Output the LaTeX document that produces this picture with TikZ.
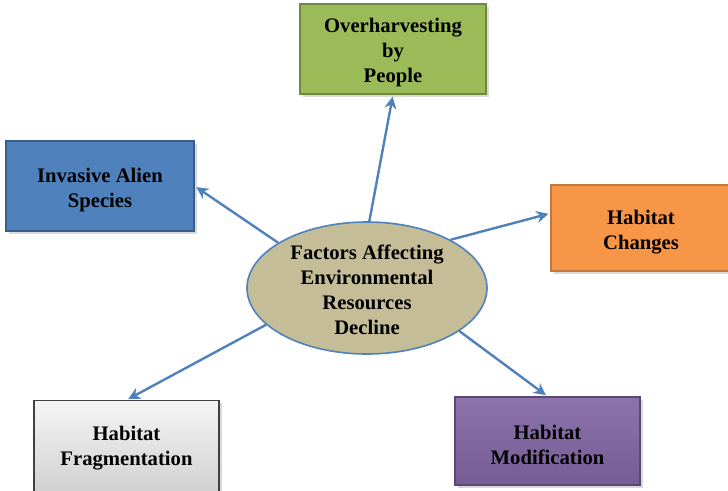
\documentclass[tikz,border=0pt]{standalone}
\usepackage{fontspec}
\setmainfont{Liberation Serif}
\usepackage{xcolor}
\usetikzlibrary{arrows.meta}
\usetikzlibrary{shapes.geometric}
\usetikzlibrary{shadows}

\definecolor{ovgreen}{HTML}{9BBB59}
\definecolor{ovgreenline}{HTML}{71893F}
\definecolor{invblue}{HTML}{4F81BD}
\definecolor{invblueline}{HTML}{385D8A}
\definecolor{hcorange}{HTML}{F79646}
\definecolor{hcorangeline}{HTML}{C0773C}
\definecolor{modpurple}{HTML}{8064A2}
\definecolor{modpurpleline}{HTML}{5C4776}
\definecolor{coretan}{HTML}{C4BD97}
\definecolor{arrowblue}{HTML}{4F81BD}

\begin{document}
\begin{tikzpicture}[x=0.75pt,y=-0.75pt,
  factor/.style={rectangle,line width=1pt,align=center,inner sep=0pt,text height=35.25pt,
    font=\bfseries\fontsize{15.5}{18.75}\selectfont,
    drop shadow={shadow xshift=2pt,shadow yshift=-2pt,opacity=0.3}},
  spoke/.style={draw=arrowblue,line width=1.8pt,shorten >=1.5pt,-{Stealth[length=9pt,width=9pt]}}]
\useasboundingbox (0,0) rectangle (728,490);
% centre
\node[ellipse,draw=invblue,line width=1.2pt,fill=coretan,inner sep=0pt,text height=69.75pt,
  minimum width=180pt,minimum height=99pt,align=center,
  font=\bfseries\fontsize{15.5}{18.75}\selectfont] (core) at (367,288)
  {Factors Affecting\\Environmental\\Resources\\Decline};
% factors
\node[factor,text height=54pt,draw=ovgreenline,fill=ovgreen,minimum width=139.5pt,minimum height=67.5pt]
  (over) at (393,49) {Overharvesting\\by\\People};
\node[factor,draw=invblueline,fill=invblue,minimum width=141pt,minimum height=67.5pt]
  (inv) at (100,186) {Invasive Alien\\Species};
\node[factor,draw=hcorangeline,fill=hcorange,minimum width=135pt,minimum height=64.5pt]
  (hc) at (641,228) {Habitat\\Changes};
\node[factor,text height=33pt,draw=black!75,top color=black!4,bottom color=black!18,minimum width=138.75pt,minimum height=68pt]
  (frag) at (126.5,446) {Habitat\\Fragmentation};
\node[factor,draw=modpurpleline,top color=modpurple!90!white,bottom color=modpurple!92!black,minimum width=138.75pt,minimum height=66pt]
  (mod) at (547.5,441) {Habitat\\Modification};
% spokes
\draw[spoke] (core.88) -- (over.south);
\draw[spoke] (core.153) -- (inv.east);
\draw[spoke] (core.30) -- ([yshift=11pt]hc.west);
\draw[spoke] (core.200) -- (frag.north);
\draw[spoke] (core.335) -- (mod.north);
\end{tikzpicture}
\end{document}
